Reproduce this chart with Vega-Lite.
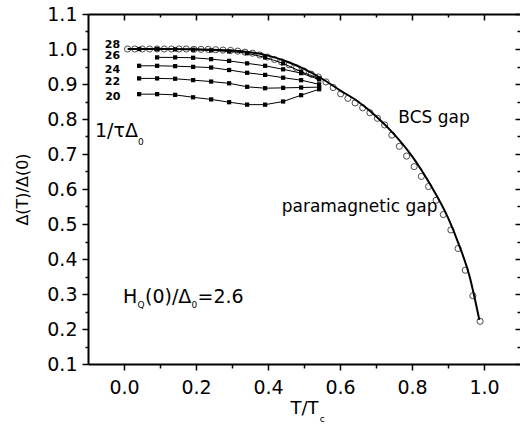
{
  "$schema": "https://vega.github.io/schema/vega-lite/v6.json",
  "width": 432,
  "height": 350,
  "autosize": {"type": "none"},
  "padding": {"left": 88, "top": 14, "right": 0, "bottom": 64},
  "background": "white",
  "config": {
    "view": {"stroke": null},
    "axis": {"grid": false, "labelFont": "DejaVu Sans", "titleFont": "DejaVu Sans", "labelColor": "black", "titleColor": "black", "domainColor": "black", "tickColor": "black", "titleFontWeight": "normal"},
    "text": {"font": "DejaVu Sans", "color": "black"}
  },
  "datasets": {
    "bcs": [
      {"t": 0.01, "v": 1.0}, {"t": 0.1, "v": 1.0}, {"t": 0.2, "v": 0.999}, {"t": 0.3, "v": 0.996},
      {"t": 0.35, "v": 0.991}, {"t": 0.4, "v": 0.981}, {"t": 0.45, "v": 0.965}, {"t": 0.5, "v": 0.943},
      {"t": 0.55, "v": 0.915}, {"t": 0.6, "v": 0.882}, {"t": 0.65, "v": 0.850}, {"t": 0.7, "v": 0.808},
      {"t": 0.75, "v": 0.757}, {"t": 0.8, "v": 0.694}, {"t": 0.85, "v": 0.614}, {"t": 0.9, "v": 0.518},
      {"t": 0.93, "v": 0.442}, {"t": 0.96, "v": 0.350}, {"t": 0.987, "v": 0.226}
    ],
    "para": [
      {"t": 0.010, "v": 1.0}, {"t": 0.030, "v": 1.0}, {"t": 0.051, "v": 1.0}, {"t": 0.071, "v": 1.0},
      {"t": 0.092, "v": 1.0}, {"t": 0.112, "v": 1.0}, {"t": 0.132, "v": 1.0}, {"t": 0.153, "v": 1.0},
      {"t": 0.173, "v": 1.0}, {"t": 0.194, "v": 0.999}, {"t": 0.214, "v": 0.999}, {"t": 0.234, "v": 0.999},
      {"t": 0.255, "v": 0.998}, {"t": 0.275, "v": 0.997}, {"t": 0.296, "v": 0.996}, {"t": 0.316, "v": 0.994},
      {"t": 0.336, "v": 0.991}, {"t": 0.357, "v": 0.988}, {"t": 0.377, "v": 0.983}, {"t": 0.398, "v": 0.977},
      {"t": 0.418, "v": 0.970}, {"t": 0.438, "v": 0.963}, {"t": 0.459, "v": 0.955}, {"t": 0.479, "v": 0.946},
      {"t": 0.500, "v": 0.937}, {"t": 0.520, "v": 0.928}, {"t": 0.540, "v": 0.920}, {"t": 0.561, "v": 0.906},
      {"t": 0.581, "v": 0.890}, {"t": 0.602, "v": 0.872}, {"t": 0.622, "v": 0.859}, {"t": 0.642, "v": 0.846},
      {"t": 0.663, "v": 0.832}, {"t": 0.683, "v": 0.818}, {"t": 0.704, "v": 0.802}, {"t": 0.724, "v": 0.783},
      {"t": 0.744, "v": 0.754}, {"t": 0.765, "v": 0.722}, {"t": 0.785, "v": 0.694}, {"t": 0.806, "v": 0.664},
      {"t": 0.826, "v": 0.636}, {"t": 0.846, "v": 0.607}, {"t": 0.867, "v": 0.568}, {"t": 0.887, "v": 0.527},
      {"t": 0.908, "v": 0.483}, {"t": 0.928, "v": 0.430}, {"t": 0.948, "v": 0.368}, {"t": 0.969, "v": 0.295},
      {"t": 0.989, "v": 0.222}
    ],
    "sq": [
      {"curve": "20", "t": 0.042, "v": 0.871}, {"curve": "20", "t": 0.092, "v": 0.871}, {"curve": "20", "t": 0.142, "v": 0.869},
      {"curve": "20", "t": 0.192, "v": 0.862}, {"curve": "20", "t": 0.242, "v": 0.856}, {"curve": "20", "t": 0.292, "v": 0.848},
      {"curve": "20", "t": 0.342, "v": 0.841}, {"curve": "20", "t": 0.392, "v": 0.841}, {"curve": "20", "t": 0.442, "v": 0.850},
      {"curve": "20", "t": 0.492, "v": 0.868}, {"curve": "20", "t": 0.542, "v": 0.885},
      {"curve": "22", "t": 0.042, "v": 0.916}, {"curve": "22", "t": 0.092, "v": 0.916}, {"curve": "22", "t": 0.142, "v": 0.915},
      {"curve": "22", "t": 0.192, "v": 0.911}, {"curve": "22", "t": 0.242, "v": 0.907}, {"curve": "22", "t": 0.292, "v": 0.902},
      {"curve": "22", "t": 0.342, "v": 0.892}, {"curve": "22", "t": 0.392, "v": 0.888}, {"curve": "22", "t": 0.442, "v": 0.889},
      {"curve": "22", "t": 0.492, "v": 0.890}, {"curve": "22", "t": 0.542, "v": 0.891},
      {"curve": "24", "t": 0.042, "v": 0.952}, {"curve": "24", "t": 0.092, "v": 0.952}, {"curve": "24", "t": 0.142, "v": 0.951},
      {"curve": "24", "t": 0.192, "v": 0.949}, {"curve": "24", "t": 0.242, "v": 0.947}, {"curve": "24", "t": 0.292, "v": 0.940},
      {"curve": "24", "t": 0.342, "v": 0.932}, {"curve": "24", "t": 0.392, "v": 0.926}, {"curve": "24", "t": 0.442, "v": 0.918},
      {"curve": "24", "t": 0.492, "v": 0.911}, {"curve": "24", "t": 0.542, "v": 0.899},
      {"curve": "26", "t": 0.092, "v": 0.976}, {"curve": "26", "t": 0.142, "v": 0.976},
      {"curve": "26", "t": 0.192, "v": 0.975}, {"curve": "26", "t": 0.242, "v": 0.971}, {"curve": "26", "t": 0.292, "v": 0.966},
      {"curve": "26", "t": 0.342, "v": 0.959}, {"curve": "26", "t": 0.392, "v": 0.952}, {"curve": "26", "t": 0.442, "v": 0.942},
      {"curve": "26", "t": 0.492, "v": 0.931}, {"curve": "26", "t": 0.542, "v": 0.913},
      {"curve": "28", "t": 0.042, "v": 1.0}, {"curve": "28", "t": 0.092, "v": 1.0}, {"curve": "28", "t": 0.142, "v": 0.999},
      {"curve": "28", "t": 0.192, "v": 0.998}, {"curve": "28", "t": 0.242, "v": 0.996}, {"curve": "28", "t": 0.292, "v": 0.993},
      {"curve": "28", "t": 0.342, "v": 0.988}, {"curve": "28", "t": 0.392, "v": 0.976}, {"curve": "28", "t": 0.442, "v": 0.959},
      {"curve": "28", "t": 0.492, "v": 0.935}, {"curve": "28", "t": 0.542, "v": 0.916}
    ],
    "nums": [
      {"t": -0.032, "v": 1.0123, "txt": "28"},
      {"t": -0.032, "v": 0.9794, "txt": "26"},
      {"t": -0.032, "v": 0.9405, "txt": "24"},
      {"t": -0.032, "v": 0.9045, "txt": "22"},
      {"t": -0.031, "v": 0.8637, "txt": "20"}
    ],
    "ann": [
      {"t": -0.0806, "v": 0.7494, "txt": "1/τΔ"},
      {"t": -0.003, "v": 0.2743, "txt": "H"},
      {"t": 0.0583, "v": 0.2743, "txt": "(0)/Δ"},
      {"t": 0.2042, "v": 0.2743, "txt": "=2.6"}
    ],
    "subs": [
      {"t": 0.0389, "v": 0.7257, "txt": "0"},
      {"t": 0.0375, "v": 0.2614, "txt": "Q"},
      {"t": 0.1876, "v": 0.2614, "txt": "0"},
      {"t": 0.544, "v": -0.065, "txt": "c"}
    ],
    "gaps": [
      {"t": 0.762, "v": 0.7877, "txt": "BCS gap"},
      {"t": 0.438, "v": 0.5351, "txt": "paramagnetic gap"}
    ]
  },
  "layer": [
    {
      "data": {"name": "para"},
      "mark": {"type": "point", "shape": "circle", "filled": false, "size": 38, "stroke": "black", "strokeWidth": 1},
      "encoding": {
        "x": {"field": "t", "type": "quantitative", "scale": {"domain": [-0.1, 1.1], "nice": false, "zero": false},
          "axis": {"orient": "bottom", "values": [0.1, 0.3, 0.5, 0.7, 0.9], "labels": false, "domain": false, "tickSize": 4, "tickWidth": 1.5, "title": null}},
        "y": {"field": "v", "type": "quantitative", "scale": {"domain": [0.1, 1.1], "nice": false, "zero": false},
          "axis": {"orient": "left", "values": [0.15, 0.25, 0.35, 0.45, 0.55, 0.65, 0.75, 0.85, 0.95, 1.05], "labels": false, "domain": false, "tickSize": 3, "tickWidth": 1.5, "title": null}}
      }
    },
    {
      "data": {"name": "bcs"},
      "mark": {"type": "line", "color": "black", "strokeWidth": 2, "interpolate": "monotone"},
      "encoding": {
        "x": {"field": "t", "type": "quantitative",
          "axis": {"orient": "bottom", "values": [0, 0.2, 0.4, 0.6, 0.8, 1.0], "format": ".1f", "labelFontSize": 19, "labelPadding": 8, "tickSize": 6, "tickWidth": 1.5, "domainWidth": 2, "title": "T/T", "titleFontSize": 18, "titlePadding": 2}},
        "y": {"field": "v", "type": "quantitative",
          "axis": {"orient": "left", "values": [0.1, 0.2, 0.3, 0.4, 0.5, 0.6, 0.7, 0.8, 0.9, 1.0, 1.1], "format": ".1f", "labelFontSize": 19, "labelPadding": 5, "tickSize": 6, "tickWidth": 1.5, "domainWidth": 2, "title": "Δ(T)/Δ(0)", "titleFontSize": 16, "titlePadding": 16}}
      }
    },
    {
      "data": {"name": "sq"},
      "mark": {"type": "line", "color": "black", "strokeWidth": 1},
      "encoding": {
        "x": {"field": "t", "type": "quantitative",
          "axis": {"orient": "top", "values": [0, 0.2, 0.4, 0.6, 0.8, 1.0], "labels": false, "tickSize": -6, "tickWidth": 1.5, "domainWidth": 2, "title": null}},
        "y": {"field": "v", "type": "quantitative",
          "axis": {"orient": "right", "values": [0.1, 0.2, 0.3, 0.4, 0.5, 0.6, 0.7, 0.8, 0.9, 1.0, 1.1], "labels": false, "domain": false, "tickSize": -5, "tickWidth": 1.5, "title": null}},
        "detail": {"field": "curve"}
      }
    },
    {
      "data": {"name": "sq"},
      "mark": {"type": "point", "shape": "square", "filled": true, "size": 18, "color": "black", "opacity": 1},
      "encoding": {
        "x": {"field": "t", "type": "quantitative",
          "axis": {"orient": "top", "values": [0.1, 0.3, 0.5, 0.7, 0.9], "labels": false, "domain": false, "tickSize": -3, "tickWidth": 1.5, "title": null}},
        "y": {"field": "v", "type": "quantitative",
          "axis": {"orient": "right", "values": [0.15, 0.25, 0.35, 0.45, 0.55, 0.65, 0.75, 0.85, 0.95, 1.05], "labels": false, "domain": false, "tickSize": -3, "tickWidth": 1.5, "title": null}}
      }
    },
    {
      "data": {"name": "nums"},
      "mark": {"type": "text", "fontSize": 11, "fontWeight": "bold", "align": "center", "baseline": "middle"},
      "encoding": {
        "x": {"field": "t", "type": "quantitative", "axis": null},
        "y": {"field": "v", "type": "quantitative", "axis": null},
        "text": {"field": "txt"}
      }
    },
    {
      "data": {"name": "ann"},
      "mark": {"type": "text", "fontSize": 19, "align": "left", "baseline": "alphabetic"},
      "encoding": {
        "x": {"field": "t", "type": "quantitative", "axis": null},
        "y": {"field": "v", "type": "quantitative", "axis": null},
        "text": {"field": "txt"}
      }
    },
    {
      "data": {"name": "subs"},
      "mark": {"type": "text", "fontSize": 9, "align": "left", "baseline": "alphabetic"},
      "encoding": {
        "x": {"field": "t", "type": "quantitative", "axis": null},
        "y": {"field": "v", "type": "quantitative", "axis": null},
        "text": {"field": "txt"}
      }
    },
    {
      "data": {"name": "gaps"},
      "mark": {"type": "text", "fontSize": 17, "align": "left", "baseline": "alphabetic"},
      "encoding": {
        "x": {"field": "t", "type": "quantitative", "axis": null},
        "y": {"field": "v", "type": "quantitative", "axis": null},
        "text": {"field": "txt"}
      }
    }
  ],
  "resolve": {"axis": {"x": "independent", "y": "independent"}}
}
